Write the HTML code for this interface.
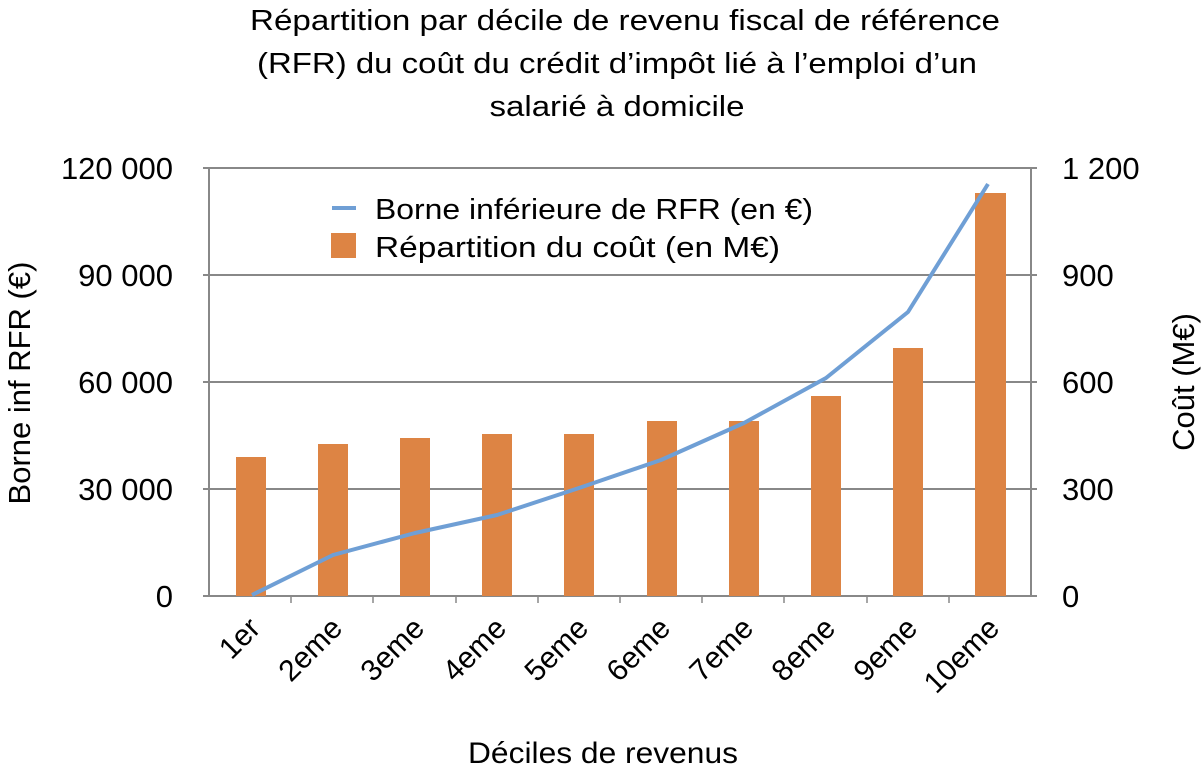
<!DOCTYPE html>
<html><head><meta charset="utf-8"><style>body{margin:0;background:#fff}svg{display:block}text{font-family:"Liberation Sans",sans-serif;fill:#000}</style></head>
<body>
<svg width="1202" height="772" viewBox="0 0 1202 772">
<g font-size="29" text-anchor="middle">
<text x="625" y="30" textLength="750" lengthAdjust="spacingAndGlyphs">Répartition par décile de revenu fiscal de référence</text>
<text x="617" y="73" textLength="720" lengthAdjust="spacingAndGlyphs">(RFR) du coût du crédit d’impôt lié à l’emploi d’un</text>
<text x="617" y="116" textLength="255" lengthAdjust="spacingAndGlyphs">salarié à domicile</text>
</g>
<g stroke="#888" stroke-width="2">
<line x1="209" y1="168" x2="1031" y2="168"/>
<line x1="209" y1="275" x2="1031" y2="275"/>
<line x1="209" y1="382" x2="1031" y2="382"/>
<line x1="209" y1="489" x2="1031" y2="489"/>
<line x1="203" y1="596" x2="1037" y2="596"/>
<line x1="209" y1="168" x2="209" y2="596"/>
<line x1="1031" y1="168" x2="1031" y2="596"/>
<line x1="203" y1="168" x2="209" y2="168"/><line x1="203" y1="275" x2="209" y2="275"/><line x1="203" y1="382" x2="209" y2="382"/><line x1="203" y1="489" x2="209" y2="489"/>
<line x1="1031" y1="168" x2="1037" y2="168"/><line x1="1031" y1="275" x2="1037" y2="275"/><line x1="1031" y1="382" x2="1037" y2="382"/><line x1="1031" y1="489" x2="1037" y2="489"/>
</g>
<g stroke="#888" stroke-width="1.5">
<line x1="291" y1="596" x2="291" y2="603"/><line x1="373" y1="596" x2="373" y2="603"/><line x1="456" y1="596" x2="456" y2="603"/><line x1="538" y1="596" x2="538" y2="603"/><line x1="620" y1="596" x2="620" y2="603"/><line x1="702" y1="596" x2="702" y2="603"/><line x1="784" y1="596" x2="784" y2="603"/><line x1="867" y1="596" x2="867" y2="603"/><line x1="949" y1="596" x2="949" y2="603"/>
</g>
<g fill="#dd8444">
<rect x="236" y="457" width="30" height="139"/>
<rect x="318" y="444" width="30" height="152"/>
<rect x="400" y="438" width="30" height="158"/>
<rect x="482" y="434" width="30" height="162"/>
<rect x="564" y="434" width="30" height="162"/>
<rect x="647" y="421" width="30" height="175"/>
<rect x="729" y="421" width="30" height="175"/>
<rect x="811" y="396" width="30" height="200"/>
<rect x="893" y="348" width="30" height="248"/>
<rect x="975" y="193" width="31" height="403"/>
</g>
<polyline fill="none" stroke="#6f9fd5" stroke-width="4" stroke-linejoin="round" points="252,595 333,555 415,533 497,515 579,488 661,460 744,423 826,378 908,312 988,184"/>
<line x1="332" y1="208" x2="356" y2="208" stroke="#6f9fd5" stroke-width="4"/>
<rect x="331" y="233" width="25" height="25" fill="#dd8444"/>
<g font-size="29">
<text x="375" y="219" textLength="438" lengthAdjust="spacingAndGlyphs">Borne inférieure de RFR (en €)</text>
<text x="375" y="257" textLength="405" lengthAdjust="spacingAndGlyphs">Répartition du coût (en M€)</text>
</g>
<g font-size="31" text-anchor="end">
<text x="173" y="179">120 000</text><text x="173" y="286">90 000</text><text x="173" y="393">60 000</text><text x="173" y="500">30 000</text><text x="173" y="607">0</text>
</g>
<g font-size="31">
<text x="1062" y="179">1 200</text><text x="1062" y="286">900</text><text x="1062" y="393">600</text><text x="1062" y="500">300</text><text x="1062" y="607">0</text>
</g>
<text font-size="31" text-anchor="middle" transform="translate(30,383) rotate(-90)">Borne inf RFR (€)</text>
<text font-size="31" text-anchor="middle" transform="translate(1194,382) rotate(-90)">Coût (M€)</text>
<g font-size="30" text-anchor="end">
<text transform="translate(262,630) rotate(-45)">1er</text>
<text transform="translate(344,630) rotate(-45)">2eme</text>
<text transform="translate(426,630) rotate(-45)">3eme</text>
<text transform="translate(508,630) rotate(-45)">4eme</text>
<text transform="translate(590,630) rotate(-45)">5eme</text>
<text transform="translate(672,630) rotate(-45)">6eme</text>
<text transform="translate(755,630) rotate(-45)">7eme</text>
<text transform="translate(837,630) rotate(-45)">8eme</text>
<text transform="translate(919,630) rotate(-45)">9eme</text>
<text transform="translate(1001,630) rotate(-45)">10eme</text>
</g>
<text font-size="30" x="603" y="763" text-anchor="middle" textLength="270" lengthAdjust="spacingAndGlyphs">Déciles de revenus</text>
</svg>
</body></html>
